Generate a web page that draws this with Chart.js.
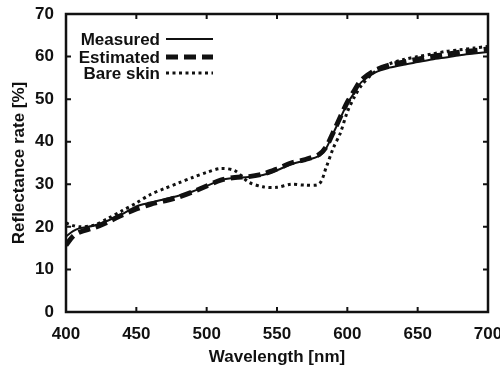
<!DOCTYPE html>
<html><head><meta charset="utf-8">
<script src="https://cdn.jsdelivr.net/npm/chart.js@4"></script>
<style>html,body{margin:0;padding:0;background:#fff}#wrap{width:500px;height:367px}</style>
</head><body><div id="wrap"><canvas id="c" width="500" height="367"></canvas></div>
<script>
const wavelengths = [400,405,410,420,430,440,450,460,470,480,490,500,510,520,530,540,550,560,570,580,585,590,595,600,605,610,620,630,640,650,660,670,680,690,700];
const measured =    [17.7,19.0,19.7,20.3,21.5,23.0,24.8,25.7,26.5,27.3,28.3,29.6,31.0,31.5,31.7,32.2,33.3,34.7,35.6,36.7,38.5,42.0,45.5,49.0,51.5,54.0,56.3,57.4,58.1,58.7,59.3,59.8,60.3,60.7,61.1];
const estimated =   [15.7,17.8,18.8,19.8,21.2,22.8,24.2,25.3,26.1,27.0,28.2,29.6,31.0,31.6,31.8,32.4,33.6,35.0,35.8,37.0,38.8,42.2,45.8,49.3,52.0,54.5,56.8,58.0,58.7,59.4,60.0,60.5,61.0,61.4,61.8];
const bareSkin =    [20.9,20.3,20.0,20.4,22.0,23.8,25.6,27.6,29.0,30.3,31.6,32.8,33.7,33.2,30.5,29.4,29.3,30.0,29.8,30.1,34.0,38.5,42.0,47.0,50.5,53.2,56.6,58.3,59.3,60.0,60.6,61.2,61.6,62.0,62.4];
const seriesNames = ['Measured','Estimated','Bare skin'];
const xTicks = [400,450,500,550,600,650,700];
const yTicks = [0,10,20,30,40,50,60,70];

const pts = arr => wavelengths.map((w,i)=>({x:w,y:arr[i]}));
const FONT = 'Liberation Sans, Arial, sans-serif';

const framePlugin = {
  id:'frame',
  afterDraw(chart){
    const {ctx, chartArea:a, scales:{x,y}} = chart;
    ctx.save();
    ctx.strokeStyle='#111'; ctx.lineWidth=2.5;
    ctx.strokeRect(a.left,a.top,a.right-a.left,a.bottom-a.top);
    ctx.lineWidth=2;
    const L=5;
    xTicks.forEach(v=>{const px=x.getPixelForValue(v);
      ctx.beginPath();ctx.moveTo(px,a.bottom);ctx.lineTo(px,a.bottom-L);ctx.moveTo(px,a.top);ctx.lineTo(px,a.top+L);ctx.stroke();});
    yTicks.forEach(v=>{const py=y.getPixelForValue(v);
      ctx.beginPath();ctx.moveTo(a.left,py);ctx.lineTo(a.left+L,py);ctx.moveTo(a.right,py);ctx.lineTo(a.right-L,py);ctx.stroke();});
    // legend
    ctx.font='bold 17px '+FONT; ctx.fillStyle='#111'; ctx.textAlign='right'; ctx.textBaseline='middle';
    const ds = chart.data.datasets;
    const rows=[39,57,73];
    ds.forEach((d,i)=>{
      ctx.fillText(seriesNames[i],160,rows[i]+1);
      ctx.beginPath(); ctx.setLineDash(d.borderDash||[]); ctx.lineWidth=d.borderWidth; ctx.strokeStyle=d.borderColor;
      ctx.moveTo(166,rows[i]); ctx.lineTo(213,rows[i]); ctx.stroke();
    });
    ctx.restore();
  }
};

new Chart(document.getElementById('c'),{
  type:'line',
  data:{datasets:[
    {label:seriesNames[0],data:pts(measured),borderColor:'#111',borderWidth:2,pointRadius:0,tension:0.3,fill:false},
    {label:seriesNames[1],data:pts(estimated),borderColor:'#111',borderWidth:5,borderDash:[12,6],pointRadius:0,tension:0.3,fill:false},
    {label:seriesNames[2],data:pts(bareSkin),borderColor:'#111',borderWidth:3,borderDash:[3,3.5],pointRadius:0,tension:0.3,fill:false}
  ]},
  options:{
    responsive:false, devicePixelRatio:1, animation:false,
    layout:{padding:{top:14,right:12,left:0,bottom:0}},
    plugins:{legend:{display:false},tooltip:{enabled:false}},
    scales:{
      x:{type:'linear',min:400,max:700,
        grid:{display:false,drawTicks:false}, border:{display:false},
        ticks:{stepSize:50,padding:12,color:'#111',font:{family:FONT,size:17,weight:'bold'}},
        title:{display:true,text:'Wavelength [nm]',color:'#111',font:{family:FONT,size:17,weight:'bold',lineHeight:1},padding:{top:1,bottom:1}},
        afterFit(s){s.height=55;s.paddingRight=0;s.paddingLeft=0;}
      },
      y:{min:0,max:70,
        grid:{display:false,drawTicks:false}, border:{display:false},
        ticks:{stepSize:10,padding:12,color:'#111',font:{family:FONT,size:17,weight:'bold'}},
        title:{display:true,text:'Reflectance rate [%]',color:'#111',font:{family:FONT,size:17,weight:'bold'},padding:{top:9,bottom:0}},
        afterFit(s){s.width=66;s.paddingTop=0;s.paddingBottom=0;}
      }
    }
  },
  plugins:[framePlugin]
});
</script></body></html>
